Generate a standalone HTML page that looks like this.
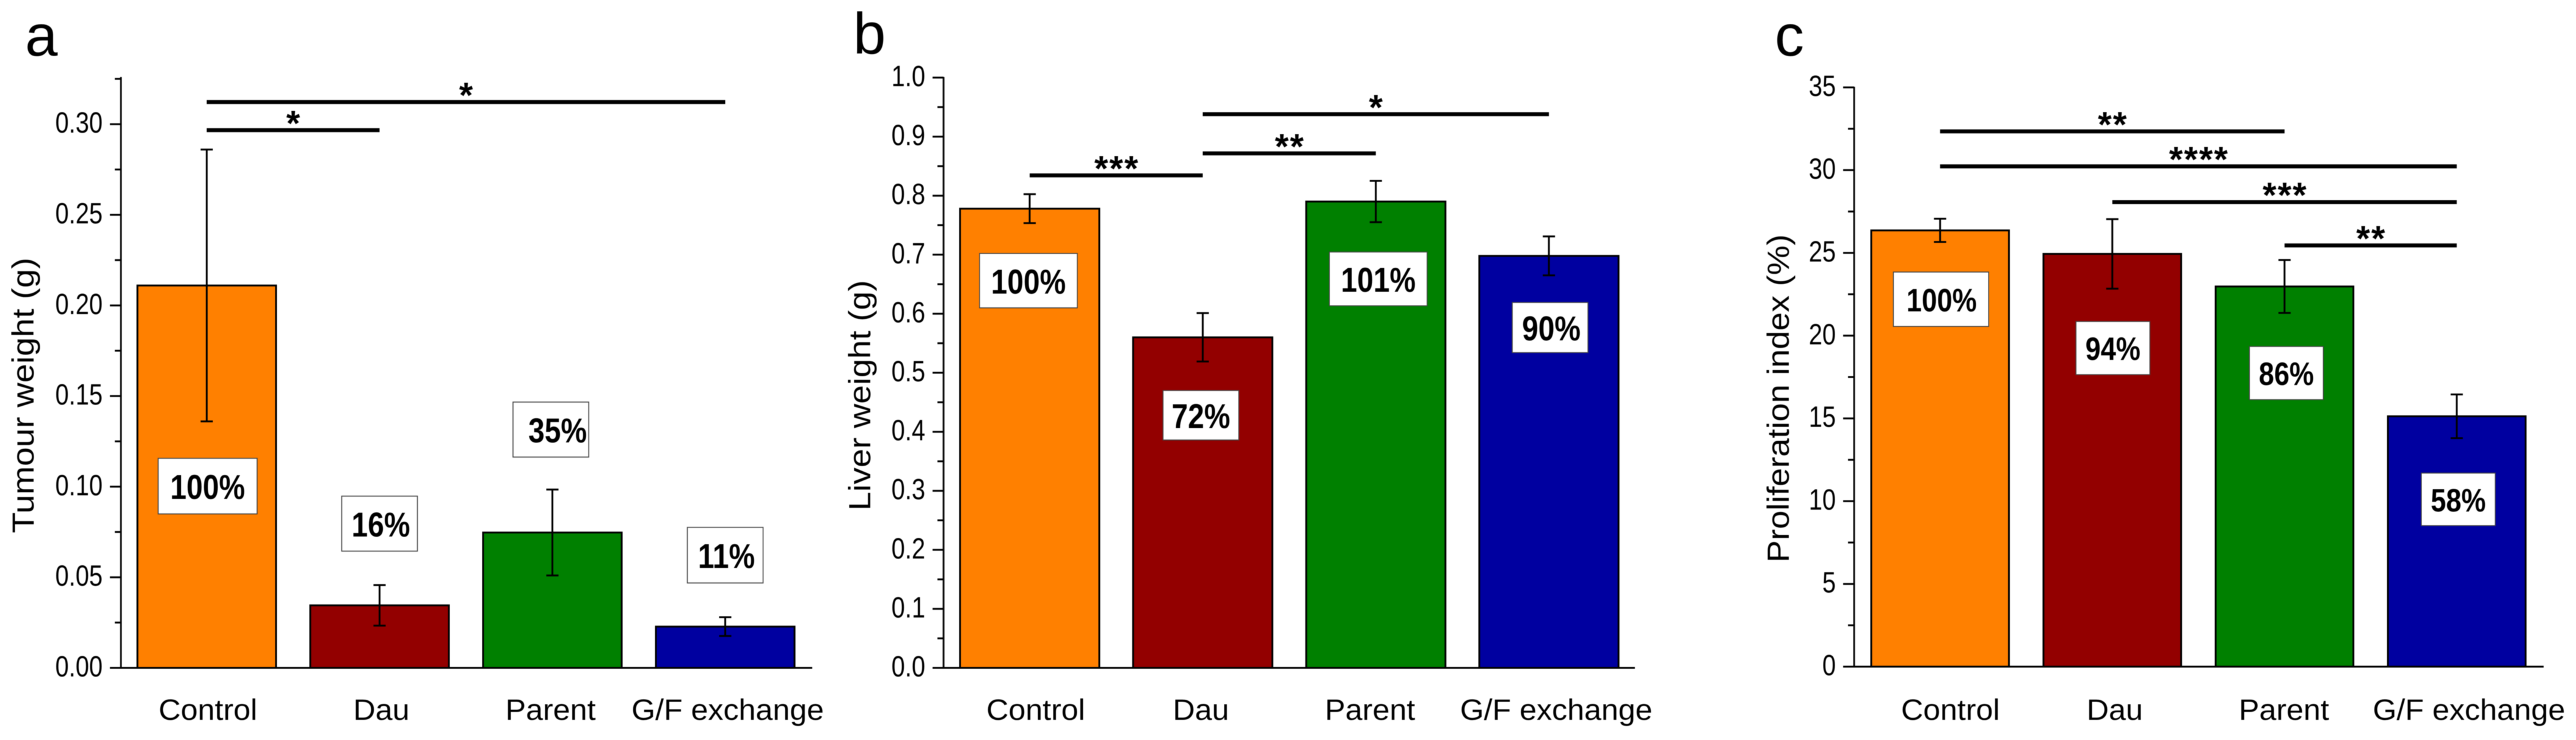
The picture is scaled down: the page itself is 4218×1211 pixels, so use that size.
<!DOCTYPE html>
<html lang="en">
<head>
<meta charset="utf-8">
<title>Tumour weight, liver weight and proliferation index</title>
<style>
html,body{margin:0;padding:0;background:#fff;}
svg{display:block;filter:blur(0.6px);}
text{font-family:"Liberation Sans",Arial,sans-serif;fill:#000;}
</style>
</head>
<body>
<svg id="figure" xmlns="http://www.w3.org/2000/svg" width="4218" height="1211" viewBox="0 0 4218 1211"></svg>
<script>
// ---- chart data ----
const categories = ['Control', 'Dau', 'Parent', 'G/F exchange'];

const tumourValues = [0.211, 0.0345, 0.0747, 0.0228];
const tumourErrors = [0.075, 0.0112, 0.0237, 0.0052];
const tumourPercents = ['100%', '16%', '35%', '11%'];
const tumourPercentLevels = [0.1003, 0.0796, 0.1315, 0.0622];
const tumourTicks = [0, 0.05, 0.10, 0.15, 0.20, 0.25, 0.30];
const tumourTickLabels = ['0.00', '0.05', '0.10', '0.15', '0.20', '0.25', '0.30'];
const tumourMinorTicks = [0.025, 0.075, 0.125, 0.175, 0.225, 0.275, 0.325];
const tumourSigFrom = [0, 0];
const tumourSigTo = [3, 1];
const tumourSigLevels = [0.3122, 0.2967];
const tumourSigMarks = ['*', '*'];

const liverValues = [0.778, 0.56, 0.79, 0.698];
const liverErrors = [0.0245, 0.041, 0.035, 0.033];
const liverPercents = ['100%', '72%', '101%', '90%'];
const liverPercentLevels = [0.656, 0.428, 0.659, 0.5766];
const liverTicks = [0, 0.1, 0.2, 0.3, 0.4, 0.5, 0.6, 0.7, 0.8, 0.9, 1.0];
const liverTickLabels = ['0.0', '0.1', '0.2', '0.3', '0.4', '0.5', '0.6', '0.7', '0.8', '0.9', '1.0'];
const liverMinorTicks = [0.05, 0.15, 0.25, 0.35, 0.45, 0.55, 0.65, 0.75, 0.85, 0.95];
const liverSigFrom = [1, 1, 0];
const liverSigTo = [3, 2, 1];
const liverSigLevels = [0.938, 0.8716, 0.8344];
const liverSigMarks = ['*', '**', '***'];

const prolifValues = [26.36, 24.94, 22.97, 15.13];
const prolifErrors = [0.7, 2.1, 1.6, 1.32];
const prolifPercents = ['100%', '94%', '86%', '58%'];
const prolifPercentLevels = [22.2, 19.25, 17.74, 10.11];
const prolifTicks = [0, 5, 10, 15, 20, 25, 30, 35];
const prolifTickLabels = ['0', '5', '10', '15', '20', '25', '30', '35'];
const prolifMinorTicks = [2.5, 7.5, 12.5, 17.5, 22.5, 27.5, 32.5];
const prolifSigFrom = [0, 0, 1, 2];
const prolifSigTo = [2, 3, 3, 3];
const prolifSigLevels = [32.34, 30.23, 28.07, 25.45];
const prolifSigMarks = ['**', '****', '***', '**'];

const barColors = ['#ff8000', '#930000', '#008000', '#0000a0'];

// ---- drawing helpers ----
const NS = 'http://www.w3.org/2000/svg';
const figure = document.getElementById('figure');

function mk(tag, attrs, parent) {
  const el = document.createElementNS(NS, tag);
  for (const k in attrs) el.setAttribute(k, attrs[k]);
  parent.appendChild(el);
  return el;
}

function hline(parent, x1, x2, y, w) {
  return mk('line', {x1: x1, x2: x2, y1: y, y2: y, stroke: '#000', 'stroke-width': w}, parent);
}

function drawPanel(p) {
  const g = mk('g', {}, figure);
  
  

  // axis functions
  const yScale = v => p.baseY - (v - 0) / p.yMax * (p.baseY - p.topY);
  const xScale = i => p.barStart + i * p.barStep + p.barWidth / 2;

  // panel letter
  const letter = mk('text', {x: p.letterX, y: p.letterY, 'font-size': 96}, g);
  letter.textContent = p.letter;
  
  

  // bars
  p.values.forEach((v, i) => {
    const bar = mk('rect', {
      x: xScale(i) - p.barWidth / 2,
      y: yScale(v),
      width: p.barWidth,
      height: p.baseY - yScale(v),
      fill: barColors[i],
      stroke: '#000',
      'stroke-width': 3
    }, g);
    
    
  });

  // error bars
  p.values.forEach((v, i) => {
    const eg = mk('g', {}, g);
    
    
    const cx = xScale(i);
    const hi = yScale(v + p.errors[i]);
    const lo = yScale(v - p.errors[i]);
    mk('line', {x1: cx, x2: cx, y1: hi, y2: lo, stroke: '#000', 'stroke-width': 3}, eg);
    hline(eg, cx - 10, cx + 10, hi, 3);
    hline(eg, cx - 10, cx + 10, lo, 3);
  });

  // y axis, x axis
  const yAxis = mk('line', {x1: p.axisX, x2: p.axisX, y1: p.topY - 1, y2: p.baseY + 1, stroke: '#111', 'stroke-width': 3}, g);
  
  
  const xAxis = hline(g, p.axisX - 18, p.axisEnd, p.baseY, 3);
  
  

  // ticks
  p.ticks.forEach((t, i) => {
    const tick = hline(g, p.axisX - 18, p.axisX, yScale(t), 3);
    
    
    const label = mk('text', {
      transform: 'translate(' + (p.axisX - 30) + ',' + (yScale(t) + 14) + ') scale(0.83,1)',
      'text-anchor': 'end',
      'font-size': 48
    }, g);
    label.textContent = p.tickLabels[i];
    
    
  });
  p.minorTicks.forEach(t => {
    const tick = hline(g, p.axisX - 10, p.axisX, yScale(t), 3);
    
    
  });

  // y axis title
  const title = mk('text', {
    transform: 'translate(' + p.titleX + ',' + p.titleY + ') rotate(-90)',
    'text-anchor': 'middle',
    'font-size': 50,
    textLength: p.titleLen,
    lengthAdjust: 'spacingAndGlyphs'
  }, g);
  title.textContent = p.title;
  
  

  // category labels
  categories.forEach((c, i) => {
    const label = mk('text', {
      transform: 'translate(' + (xScale(i) + p.catNudge[i]) + ',1178) scale(1.045,1)',
      'text-anchor': 'middle',
      'font-size': 48
    }, g);
    label.textContent = c;
    
    
  });

  // percent boxes
  p.percents.forEach((txt, i) => {
    const bw = txt.length === 4 ? p.wideBox : p.narrowBox;
    const bh = p.boxHeights[i];
    const cx = xScale(i) + p.boxNudge[i];
    const cy = yScale(p.percentLevels[i]);
    const box = mk('rect', {
      x: cx - bw / 2, y: cy - bh / 2, width: bw, height: bh,
      fill: '#fff', stroke: '#444', 'stroke-width': 1.5
    }, g);
    
    
    const label = mk('text', {
      transform: 'translate(' + (cx + p.textNudge[i]) + ',' + (cy + p.pctSize * 0.37) + ') scale(' + p.pctScale + ',1)',
      'text-anchor': 'middle',
      'font-size': p.pctSize,
      'font-weight': 'bold'
    }, g);
    label.textContent = txt;
    
    
  });

  // significance brackets
  p.sigLevels.forEach((lvl, i) => {
    const x1 = xScale(p.sigFrom[i]);
    const x2 = xScale(p.sigTo[i]);
    const y = yScale(lvl);
    const line = hline(g, x1, x2, y, 6.5);
    
    
    const star = mk('text', {
      x: (x1 + x2) / 2 + 1, y: y + 9,
      'text-anchor': 'middle',
      'font-size': 58,
      'font-weight': 'bold',
      'letter-spacing': 2
    }, g);
    star.textContent = p.sigMarks[i];
    
    
  });
}

drawPanel({
  name: 'tumour-weight', letter: 'a', letterX: 41, letterY: 91,
  values: tumourValues, errors: tumourErrors, percents: tumourPercents, percentLevels: tumourPercentLevels,
  ticks: tumourTicks, tickLabels: tumourTickLabels, minorTicks: tumourMinorTicks,
  sigFrom: tumourSigFrom, sigTo: tumourSigTo, sigLevels: tumourSigLevels, sigMarks: tumourSigMarks,
  yMax: 0.3257, baseY: 1093, topY: 127, axisX: 198, axisEnd: 1330,
  barStart: 225, barStep: 283, barWidth: 227,
  title: 'Tumour weight (g)', titleX: 55, titleY: 647, titleLen: 451,
  catNudge: [2, 3, -3, 4], boxNudge: [1.5, 0, -2.5, 0], textNudge: [0, 2, 11, 2],
  boxHeights: [91, 90, 90, 91], wideBox: 162, narrowBox: 124, pctSize: 57, pctScale: 0.84
});

drawPanel({
  name: 'liver-weight', letter: 'b', letterX: 1397, letterY: 88,
  values: liverValues, errors: liverErrors, percents: liverPercents, percentLevels: liverPercentLevels,
  ticks: liverTicks, tickLabels: liverTickLabels, minorTicks: liverMinorTicks,
  sigFrom: liverSigFrom, sigTo: liverSigTo, sigLevels: liverSigLevels, sigMarks: liverSigMarks,
  yMax: 1.0, baseY: 1093, topY: 127, axisX: 1545, axisEnd: 2677,
  barStart: 1572, barStep: 283.4, barWidth: 228,
  title: 'Liver weight (g)', titleX: 1425, titleY: 647, titleLen: 377,
  catNudge: [10, -3, -9.5, 12], boxNudge: [-2, -3, 4, 2], textNudge: [0, 0, 0, 2],
  boxHeights: [89, 81, 88, 82], wideBox: 160, narrowBox: 124, pctSize: 57, pctScale: 0.84
});

drawPanel({
  name: 'proliferation-index', letter: 'c', letterX: 2906, letterY: 91,
  values: prolifValues, errors: prolifErrors, percents: prolifPercents, percentLevels: prolifPercentLevels,
  ticks: prolifTicks, tickLabels: prolifTickLabels, minorTicks: prolifMinorTicks,
  sigFrom: prolifSigFrom, sigTo: prolifSigTo, sigLevels: prolifSigLevels, sigMarks: prolifSigMarks,
  yMax: 35, baseY: 1091, topY: 143, axisX: 3036, axisEnd: 4165,
  barStart: 3064, barStep: 282, barWidth: 225.5,
  title: 'Proliferation index (%)', titleX: 2929, titleY: 652, titleLen: 537,
  catNudge: [17, 4, -1, 20], boxNudge: [1.5, 1, 3, 2.5], textNudge: [1, 0, 0, 0],
  boxHeights: [89, 87, 87, 86], wideBox: 156, narrowBox: 121, pctSize: 53, pctScale: 0.85
});
</script>
</body>
</html>
